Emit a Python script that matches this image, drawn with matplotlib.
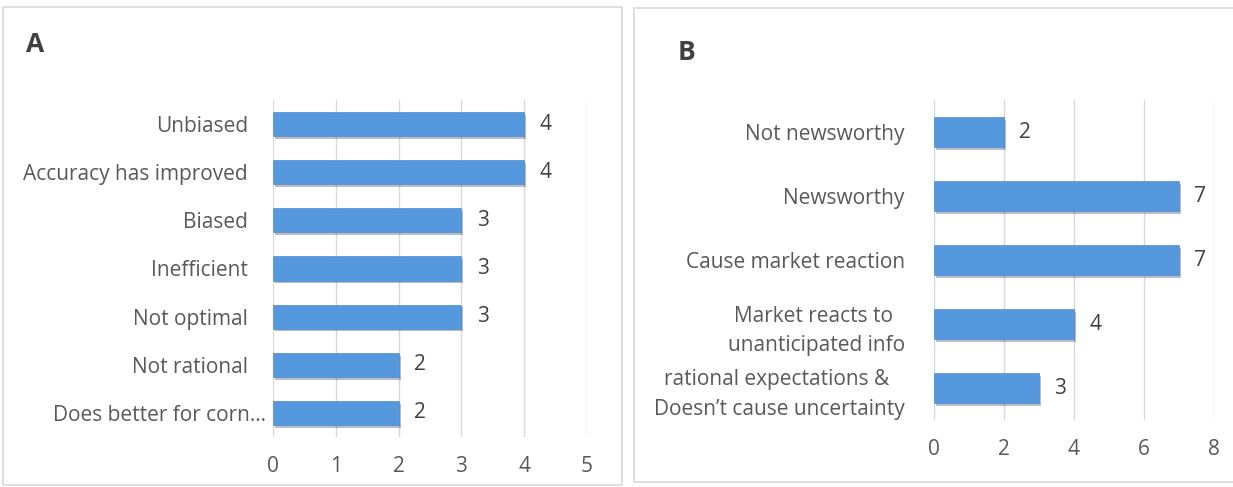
import matplotlib
matplotlib.use('Agg')
import matplotlib.pyplot as plt
import matplotlib.patheffects as pe
import matplotlib.transforms as mtransforms
from matplotlib.patches import Rectangle

plt.rcParams['font.family'] = ['Open Sans', 'DejaVu Sans']

# panel A data (top to bottom)
labels_a = ['Unbiased', 'Accuracy has improved', 'Biased', 'Inefficient',
            'Not optimal', 'Not rational', 'Does better for corn\u2026']
values_a = [4, 4, 3, 3, 3, 2, 2]
ticks_a = [0, 1, 2, 3, 4, 5]

# panel B data (top to bottom)
labels_b = ['Not newsworthy', 'Newsworthy', 'Cause market reaction',
            'Market reacts to \nunanticipated info',
            'rational expectations & \nDoesn\u2019t cause uncertainty']
values_b = [2, 7, 7, 4, 3]
ticks_b = [0, 2, 4, 6, 8]

bar_color = '#5698dd'
text_color = '#595959'
grid_color = '#d9d9d9'
fs = 15


def draw_panel(ax, labels, values, ticks, height, ypad):
    n = len(labels)
    ypos = list(range(n))[::-1]
    bars = ax.barh(ypos, values, height=height, color=bar_color,
                   edgecolor='#4d8ccf', linewidth=0.5, zorder=3)
    for b in bars:
        b.set_path_effects([pe.SimplePatchShadow(offset=(1.5, -2), alpha=0.3),
                            pe.Normal()])
    for y, v in zip(ypos, values):
        ax.annotate(str(v), (v, y), xytext=(11, 0), textcoords='offset points',
                    ha='left', va='center', fontsize=fs, color='#404040')
    ax.set_yticks(ypos)
    ax.set_yticklabels(labels, fontsize=fs, color=text_color,
                       multialignment='center', linespacing=1.55)
    ax.set_xticks(ticks)
    ax.set_xticklabels([str(t) for t in ticks], fontsize=fs, color=text_color)
    ax.set_xlim(ticks[0], ticks[-1])
    ax.set_ylim(-0.5, n - 0.5)
    ax.grid(axis='x', color=grid_color, linewidth=1, zorder=0)
    ax.set_axisbelow(True)
    for s in ax.spines.values():
        s.set_visible(False)
    ax.tick_params(axis='y', length=0, pad=ypad)
    ax.tick_params(axis='x', length=0, pad=14)


fig = plt.figure(figsize=(12.33, 4.87), dpi=100)

# panel frames
fig.patches.append(Rectangle((3 / 1233, 2 / 487), 619 / 1233, 478 / 487,
                             transform=fig.transFigure, fill=False,
                             edgecolor=grid_color, linewidth=1.2))
fig.patches.append(Rectangle((634 / 1233, 5 / 487), 640 / 1233, 474 / 487,
                             transform=fig.transFigure, fill=False,
                             edgecolor=grid_color, linewidth=1.2))

ax_a = fig.add_axes([273 / 1233, 1 - 437 / 487, 314 / 1233, 337 / 487])
draw_panel(ax_a, labels_a, values_a, ticks_a, 0.5, 18)

# truncated label sits closer to the axis, like the original
last = ax_a.get_yticklabels()[-1]
last.set_transform(last.get_transform() +
                   mtransforms.ScaledTranslation(18 / 100, 0, fig.dpi_scale_trans))

ax_b = fig.add_axes([934 / 1233, 1 - 420 / 487, 280 / 1233, 320 / 487])
draw_panel(ax_b, labels_b, values_b, ticks_b, 0.47, 21)

fig.text(26 / 1233, 1 - 45 / 487, 'A', fontsize=19, fontweight='bold',
         color='#404040', va='center', ha='left')
fig.text(678 / 1233, 1 - 52 / 487, 'B', fontsize=19, fontweight='bold',
         color='#404040', va='center', ha='left')

fig.savefig('out.png', dpi=100)
